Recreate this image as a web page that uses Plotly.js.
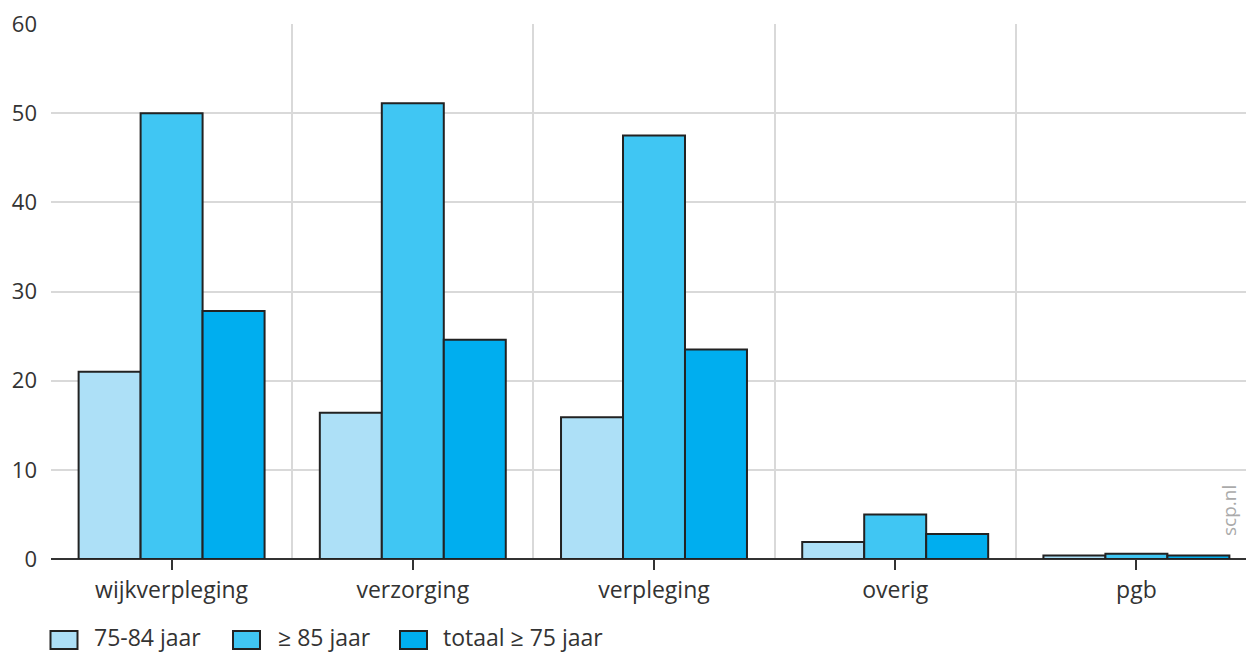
<!DOCTYPE html>
<html>
<head>
<meta charset="utf-8">
<script src="https://cdn.plot.ly/plotly-3.0.1.min.js"></script>
<style>
html, body { margin:0; padding:0; overflow:hidden; background:#fff; }
#chart { width:1270px; height:654px; }
</style>
</head>
<body>
<div id="chart"></div>
<script>
const categories = ['wijkverpleging', 'verzorging', 'verpleging', 'overig', 'pgb'];
const seriesNames = ['75-84 jaar', '\u2265 85 jaar', 'totaal \u2265 75 jaar'];
const age75to84 = [21.0, 16.4, 15.9, 1.9, 0.4];
const age85plus = [50.0, 51.1, 47.5, 5.0, 0.6];
const total75plus = [27.8, 24.6, 23.5, 2.8, 0.4];
const yTicks = [0, 10, 20, 30, 40, 50, 60];
const colors = ['#ADE0F7', '#40C6F3', '#00AEEF'];

const W = 1270, H = 654;
const M = {l: 51, r: 13, t: 24, b: 95};
const PW = W - M.l - M.r, PH = H - M.t - M.b;
const px2x = p => (p - M.l) / PW;
const px2y = p => (H - M.b - p) / PH;

const seriesValues = [age75to84, age85plus, total75plus];
const idx = categories.map((_, i) => i);

const traces = seriesValues.map((vals, k) => ({
  type: 'bar',
  name: seriesNames[k],
  x: idx,
  y: vals,
  marker: {color: colors[k], line: {color: '#222', width: 2}},
  showlegend: false,
  hoverinfo: 'y'
}));

const shapes = [];
const annotations = [];
const legendX = [50.5, 233, 400];
const legendTextX = [92, 276, 441];
seriesNames.forEach((n, k) => {
  shapes.push({
    type: 'rect', xref: 'paper', yref: 'paper',
    x0: px2x(legendX[k]), x1: px2x(legendX[k] + 27),
    y0: px2y(649), y1: px2y(631),
    fillcolor: colors[k], line: {color: '#222', width: 2}
  });
  annotations.push({
    xref: 'paper', yref: 'paper', x: px2x(legendTextX[k]), y: px2y(637),
    xanchor: 'left', yanchor: 'middle', showarrow: false,
    text: n, font: {family: 'Open Sans, sans-serif', size: 23, color: '#333'}
  });
});
annotations.push({
  xref: 'paper', yref: 'paper', x: px2x(1229), y: px2y(511),
  xanchor: 'center', yanchor: 'middle', showarrow: false, textangle: -90,
  text: 'scp.nl', font: {family: 'Open Sans, sans-serif', size: 19, color: '#aaa'}
});

const boundaries = [];
for (let i = 0; i <= categories.length; i++) boundaries.push(i - 0.5);

const layout = {
  width: W, height: H,
  margin: M,
  paper_bgcolor: '#fff', plot_bgcolor: '#fff',
  barmode: 'group',
  bargap: 0.229,
  bargroupgap: 0,
  font: {family: 'Open Sans, sans-serif', size: 23, color: '#333'},
  xaxis: {
    type: 'linear',
    range: [-0.5, categories.length - 0.5],
    tickvals: idx,
    ticktext: categories,
    ticks: 'outside', ticklen: 10, tickwidth: 2, tickcolor: '#333',
    showgrid: false, zeroline: false, showline: false,
    tickfont: {size: 23, color: '#333'},
    minor: {tickvals: boundaries, showgrid: true, gridcolor: '#d9d9d9', gridwidth: 2, ticks: ''},
    fixedrange: true
  },
  yaxis: {
    range: [0, 60],
    tickvals: yTicks,
    ticks: '', ticklabelstandoff: 13,
    showgrid: true, gridcolor: '#d9d9d9', gridwidth: 2,
    zeroline: true, zerolinecolor: '#333', zerolinewidth: 2,
    showline: false,
    tickfont: {size: 22, color: '#333'},
    fixedrange: true
  },
  shapes: shapes,
  annotations: annotations
};

Plotly.newPlot('chart', traces, layout, {displayModeBar: false, staticPlot: true});
</script>
</body>
</html>
